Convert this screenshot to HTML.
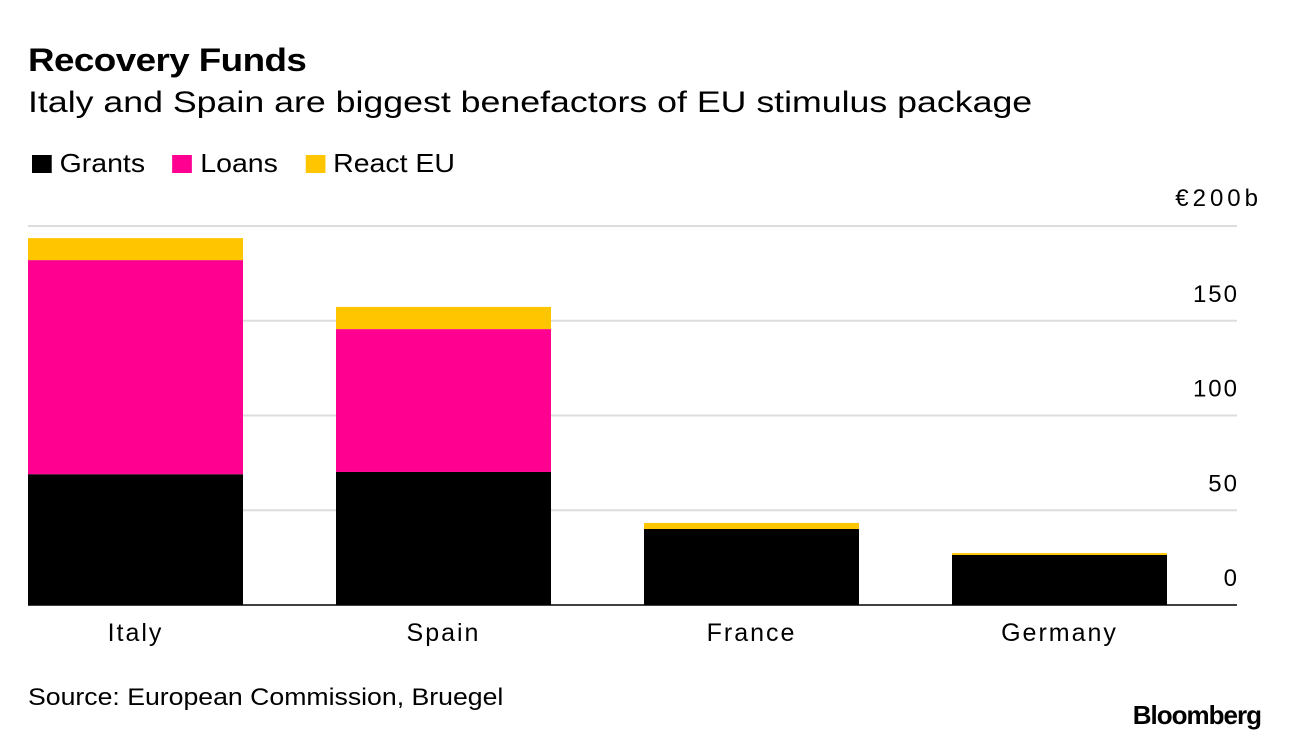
<!DOCTYPE html>
<html><head><meta charset="utf-8">
<style>
body{margin:0;width:1289px;height:740px;background:#fff;font-family:"Liberation Sans",sans-serif;color:#000;position:relative;overflow:hidden}
.t{position:absolute;white-space:nowrap;transform-origin:0 0}
</style></head><body>
<div class="t" style="left:28px;top:42px;font-size:32px;font-weight:bold;letter-spacing:-0.5px;transform:scaleX(1.15)">Recovery Funds</div>
<div class="t" style="left:28px;top:86px;font-size:30px;transform:scaleX(1.19)">Italy and Spain are biggest benefactors of EU stimulus package</div>
<div class="t" style="left:32px;top:148px;font-size:26px;transform:scaleX(1.095)">
<span><span style="display:inline-block;width:18px;height:18px;background:#000;vertical-align:-1px"></span> Grants</span>
<span style="margin-left:18px"><span style="display:inline-block;width:18px;height:18px;background:#ff0090;vertical-align:-1px"></span> Loans</span>
<span style="margin-left:18px"><span style="display:inline-block;width:18px;height:18px;background:#ffc600;vertical-align:-1px"></span> React EU</span>
</div>
<svg id="chart" width="1289" height="740" style="position:absolute;left:0;top:0"></svg>
<div class="t" style="left:28px;top:684px;font-size:24px;transform:scaleX(1.11)">Source: European Commission, Bruegel</div>
<div class="t" style="right:28px;top:700px;font-size:26px;font-weight:bold;letter-spacing:-1px">Bloomberg</div>
<script>
const categories=["Italy","Spain","France","Germany"];
const grants=[69,70.2,40.1,26.4];
const loans=[113,75.4,0,0];
const reactEU=[11.6,11.7,3.2,1];
const ticks=[0,50,100,150,200];
const tickLabels=["0","50","100","150","€200b"];
const svg=document.getElementById('chart');
const NS="http://www.w3.org/2000/svg";
const y0=605,pxPer=1.895;
function y(v){return y0-v*pxPer;}
function xBar(i){return 28+i*308;}
const bw=215;
ticks.forEach((t,i)=>{
  const l=document.createElementNS(NS,'line');
  
  
  l.setAttribute('x1',28);l.setAttribute('x2',1237);
  l.setAttribute('y1',y(t));l.setAttribute('y2',y(t));
  l.setAttribute('stroke',t===0?'#000':'#ddd');l.setAttribute('stroke-width',t===0?1.5:2);
  svg.appendChild(l);
  const tx=document.createElementNS(NS,'text');
  
  
  tx.setAttribute('x',t===200?1262:1239);tx.setAttribute('y',t===200?y(t)-20:y(t)-19);
  tx.setAttribute('text-anchor','end');tx.setAttribute('font-size','24');
  tx.setAttribute('letter-spacing',t===200?'4':'2');
  tx.setAttribute('font-family','Liberation Sans, sans-serif');
  tx.textContent=tickLabels[i];svg.appendChild(tx);
});
const series=[[grants,'#000','grants'],[loans,'#ff0090','loans'],[reactEU,'#ffc600','react-eu']];
categories.forEach((c,i)=>{
  let base=0;
  series.forEach(([arr,col,nm])=>{
    const v=arr[i];
    if(v>0){
      const r=document.createElementNS(NS,'rect');
      
      
      r.setAttribute('x',xBar(i));r.setAttribute('width',bw);
      r.setAttribute('y',y(base+v));r.setAttribute('height',v*pxPer);
      r.setAttribute('fill',col);svg.appendChild(r);
    }
    base+=v;
  });
  const tx=document.createElementNS(NS,'text');
  
  
  tx.setAttribute('x',xBar(i)+bw/2);tx.setAttribute('y',641);
  tx.setAttribute('text-anchor','middle');tx.setAttribute('font-size','25');
  tx.setAttribute('letter-spacing','2');
  tx.setAttribute('font-family','Liberation Sans, sans-serif');
  tx.textContent=c;svg.appendChild(tx);
});
</script>
</body></html>
